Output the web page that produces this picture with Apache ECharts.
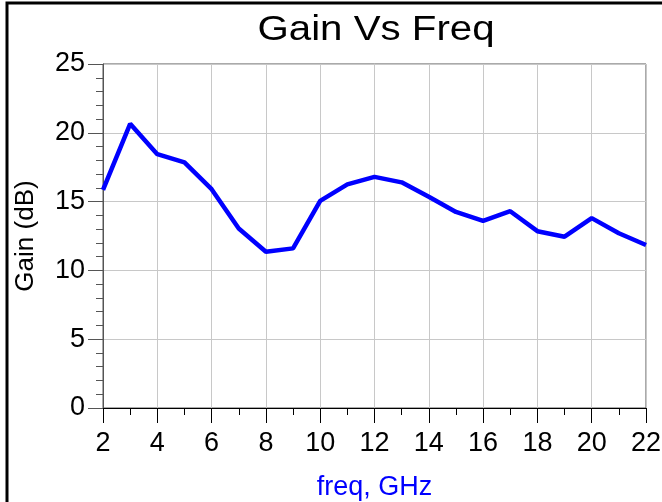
<!DOCTYPE html>
<html>
<head>
<meta charset="utf-8">
<script src="https://cdn.jsdelivr.net/npm/echarts@6/dist/echarts.min.js"></script>
<style>
  html, body { margin: 0; padding: 0; background: #fff; }
  #main { width: 662px; height: 502px; }
</style>
</head>
<body>
<div id="main"></div>
<script>
// frequency points (GHz) and gain (dB)
var freq = [2, 3, 4, 5, 6, 7, 8, 9, 10, 11, 12, 13, 14, 15, 16, 17, 18, 19, 20, 21, 22]
var gain = [15.85, 20.65, 18.45, 17.85, 15.9, 13.05, 11.35, 11.6, 15.05, 16.25, 16.8, 16.4, 15.35, 14.25, 13.6, 14.3, 12.85, 12.45, 13.8, 12.7, 11.85]
var xTicks = [2, 4, 6, 8, 10, 12, 14, 16, 18, 20, 22]
var yTicks = [0, 5, 10, 15, 20, 25]

var font = 'Liberation Sans, Arial, sans-serif'
var chart = echarts.init(document.getElementById('main'))

var option = {
  animation: false,
  backgroundColor: '#fff',
  graphic: [
    {
      // outer frame, runs off the right and bottom edges
      type: 'rect',
      shape: { x: 7, y: 3, width: 720, height: 600 },
      style: { fill: 'none', stroke: '#000', lineWidth: 3 },
      z: 100
    },
    {
      type: 'text',
      x: 376,
      y: 30,
      scaleX: 1.15,
      style: {
        text: 'Gain Vs Freq',
        font: '35px ' + font,
        fill: '#000',
        align: 'center',
        verticalAlign: 'middle'
      }
    }
  ],
  grid: {
    left: 103,
    top: 64,
    right: 16,
    bottom: 94,
    outerBoundsMode: 'none',
    show: true,
    borderColor: '#555',
    borderWidth: 1
  },
  xAxis: {
    type: 'value',
    min: xTicks[0],
    max: xTicks[xTicks.length - 1],
    interval: 2,
    name: 'freq, GHz',
    nameLocation: 'middle',
    nameGap: 66,
    nameTextStyle: { color: '#0000ff', fontSize: 27, fontFamily: font },
    axisLine: { show: true, onZero: false, lineStyle: { color: '#000', width: 1 } },
    axisTick: { show: true, length: 15, lineStyle: { color: '#000' } },
    minorTick: { show: true, splitNumber: 2, length: 7, lineStyle: { color: '#000' } },
    axisLabel: { color: '#000', fontSize: 27, fontFamily: font, margin: 22 },
    splitLine: { show: true, lineStyle: { color: '#c8c8c8', width: 1 } }
  },
  yAxis: {
    type: 'value',
    min: yTicks[0],
    max: yTicks[yTicks.length - 1],
    interval: 5,
    name: 'Gain (dB)',
    nameLocation: 'middle',
    nameGap: 64,
    nameTextStyle: { color: '#000', fontSize: 26, fontFamily: font },
    axisLine: { show: true, onZero: false, lineStyle: { color: '#555', width: 1 } },
    axisTick: { show: true, length: 15, lineStyle: { color: '#555' } },
    minorTick: { show: true, splitNumber: 5, length: 7, lineStyle: { color: '#555' } },
    axisLabel: { color: '#000', fontSize: 27, fontFamily: font, margin: 18 },
    splitLine: { show: true, lineStyle: { color: '#c8c8c8', width: 1 } }
  },
  series: [
    {
      name: 'Gain',
      type: 'line',
      data: freq.map(function (f, i) { return [f, gain[i]] }),
      symbol: 'none',
      lineStyle: { color: '#0000ff', width: 4.5 },
      clip: true
    }
  ]
}

chart.setOption(option)
</script>
</body>
</html>
